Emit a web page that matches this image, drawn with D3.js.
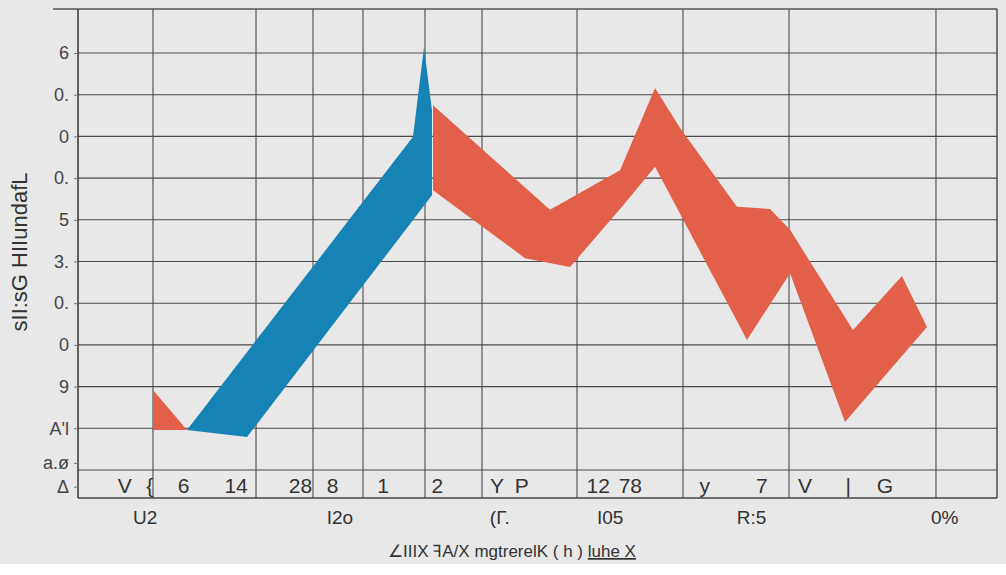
<!DOCTYPE html>
<html>
<head>
<meta charset="utf-8">
<script src="https://cdn.jsdelivr.net/npm/d3@7"></script>
<style>
  html, body { margin: 0; padding: 0; background: #ffffff; }
  svg { display: block; }
</style>
</head>
<body>
<svg id="chart" width="1006" height="575"></svg>
<script>
// ---------- data ----------
const yGridValues = [0, 1, 2, 3, 4, 5, 6, 7, 8, 9, 10];
const yTickValues = [10, 9, 8, 7, 6, 5, 4, 3, 2, 1, 0.17, -0.4];
const yTickLabels = ["6", "0.", "0", "0.", "5", "3.", "0.", "0", "9", "A'l", "a.ø", "Δ"];

const xGridValues = [8.16, 19.37, 25.57, 31.01, 37.76, 43.96, 54.3, 65.83, 77.37, 93.36];

const xRow1Values = [5.1, 7.8, 11.5, 17.2, 24.2, 27.7, 33.2, 39.1, 45.6, 48.3, 56.6, 60.1, 68.2, 74.4, 79.1, 83.8, 87.8];
const xRow1Labels = ["V", "{", "6", "14", "28", "8", "1", "2", "Y", "P", "12", "78", "y", "7", "V", "|", "G"];

const xRow2Values = [7.3, 28.5, 45.9, 57.9, 73.3, 94.3];
const xRow2Labels = ["U2", "I2o", "(Γ.", "I05", "R:5", "0%"];

const yTitle = "sII:sG HIIundafL";
const xTitleMain = "∠IIIX ꟻA/X  mgtrerelK ( h ) ";
const xTitleUnder = "luhe X";

// blue band: upper and lower edges (x, y)
const blueUpperX = [11.86, 36.45, 37.65, 38.52];
const blueUpperY = [0.96, 7.99, 10.14, 8.63];
const blueLowerX = [11.86, 18.39, 38.52];
const blueLowerY = [0.96, 0.79, 6.59];

// red band (main)
const redUpperX = [38.63, 51.36, 58.98, 62.79, 65.51, 71.71, 75.30, 77.48, 84.33, 89.66, 92.38];
const redUpperY = [8.75, 6.24, 7.19, 9.16, 8.20, 6.31, 6.26, 5.76, 3.36, 4.65, 3.43];
const redLowerX = [38.63, 48.64, 53.54, 59.19, 62.79, 72.80, 77.48, 83.46, 92.38];
const redLowerY = [6.71, 5.08, 4.87, 6.31, 7.27, 3.12, 4.72, 1.15, 3.43];

// red small wedge on the left
const redSmallUpperX = [8.16, 11.86];
const redSmallUpperY = [1.92, 0.96];
const redSmallLowerX = [8.16, 11.86];
const redSmallLowerY = [0.96, 0.96];

// ---------- layout ----------
const W = 1006, H = 575;
const plot = { left: 78, right: 997, top: 9, bottom: 498 };

const svg = d3.select("#chart");

svg.append("rect").attr("x", 0).attr("y", 0).attr("width", W).attr("height", 564).attr("fill", "#e8e8e8");

const x = d3.scaleLinear().domain([0, 100]).range([plot.left, plot.right]);
const y = d3.scaleLinear().domain([0, 10]).range([470, 53]);

const gridColor = "#4a4a4a";

// horizontal grid
svg.append("g").selectAll("line").data(yGridValues).join("line")
  .attr("x1", plot.left).attr("x2", plot.right)
  .attr("y1", d => y(d)).attr("y2", d => y(d))
  .attr("stroke", gridColor).attr("stroke-width", 1.1);

// vertical grid
svg.append("g").selectAll("line").data(xGridValues).join("line")
  .attr("x1", d => x(d)).attr("x2", d => x(d))
  .attr("y1", plot.top).attr("y2", plot.bottom)
  .attr("stroke", gridColor).attr("stroke-width", 1.1);

// frame
svg.append("line").attr("x1", 53).attr("x2", plot.right).attr("y1", plot.top).attr("y2", plot.top)
  .attr("stroke", "#555").attr("stroke-width", 1.3);
svg.append("line").attr("x1", plot.left).attr("x2", plot.right).attr("y1", plot.bottom).attr("y2", plot.bottom)
  .attr("stroke", "#444").attr("stroke-width", 1.4);
svg.append("line").attr("x1", plot.right).attr("x2", plot.right).attr("y1", plot.top).attr("y2", plot.bottom)
  .attr("stroke", "#444").attr("stroke-width", 1.4);
svg.append("line").attr("x1", plot.left).attr("x2", plot.left).attr("y1", plot.top).attr("y2", plot.bottom)
  .attr("stroke", "#333").attr("stroke-width", 1.5);

// bands
const line = d3.line().x(d => x(d[0])).y(d => y(d[1])).curve(d3.curveLinearClosed);
function band(ux, uy, lx, ly) {
  const upper = ux.map((v, i) => [v, uy[i]]);
  const lower = lx.map((v, i) => [v, ly[i]]).reverse();
  return upper.concat(lower);
}

svg.append("path").datum(band(redSmallUpperX, redSmallUpperY, redSmallLowerX, redSmallLowerY))
  .attr("d", line).attr("fill", "#e2604a");
svg.append("path").datum(band(blueUpperX, blueUpperY, blueLowerX, blueLowerY))
  .attr("d", line).attr("fill", "#1783b4");
svg.append("path").datum(band(redUpperX, redUpperY, redLowerX, redLowerY))
  .attr("d", line).attr("fill", "#e2604a");

// y axis
const yAxis = d3.axisLeft(y).tickValues(yTickValues).tickSize(4).tickPadding(5)
  .tickFormat((d, i) => yTickLabels[i]);
const gy = svg.append("g").attr("transform", `translate(${plot.left},0)`).call(yAxis);
gy.select(".domain").remove();
gy.selectAll(".tick line").attr("stroke", "#777");
gy.selectAll(".tick text").attr("fill", "#444")
  .style("font-family", "'Liberation Sans', Arial, sans-serif").style("font-size", "18px");

// x row labels
const fontFam = "'Liberation Sans', Arial, sans-serif";
svg.append("g").selectAll("text").data(xRow1Values).join("text")
  .attr("x", d => x(d)).attr("y", 493)
  .attr("text-anchor", "middle")
  .attr("fill", "#333")
  .style("font-family", fontFam).style("font-size", "21px")
  .text((d, i) => xRow1Labels[i]);

svg.append("g").selectAll("text").data(xRow2Values).join("text")
  .attr("x", d => x(d)).attr("y", 524)
  .attr("text-anchor", "middle")
  .attr("fill", "#333")
  .style("font-family", fontFam).style("font-size", "19px")
  .text((d, i) => xRow2Labels[i]);

// titles
svg.append("text")
  .attr("transform", "translate(27,252) rotate(-90)")
  .attr("text-anchor", "middle")
  .attr("fill", "#333")
  .style("font-family", fontFam).style("font-size", "22px")
  .text(yTitle);

const xt = svg.append("text")
  .attr("x", 512).attr("y", 557)
  .attr("text-anchor", "middle")
  .attr("fill", "#333")
  .style("font-family", fontFam).style("font-size", "17px");
xt.append("tspan").text(xTitleMain);
xt.append("tspan").attr("text-decoration", "underline").text(xTitleUnder);
</script>
</body>
</html>
